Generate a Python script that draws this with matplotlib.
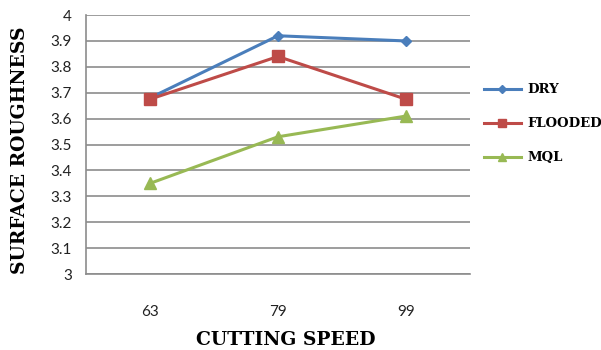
import matplotlib.pyplot as plt

# cutting speed levels and surface roughness for each cooling condition
speeds = ['63', '79', '99']
dry = [3.68, 3.92, 3.90]
flooded = [3.675, 3.84, 3.675]
mql = [3.35, 3.53, 3.61]

fig = plt.figure(figsize=(6.01, 3.5), dpi=100)
ax = fig.add_axes([0.143, 0.217, 0.639, 0.74])

x = range(len(speeds))
ax.plot(x, dry, color='#4A7EBB', lw=2.2, marker='D', ms=5, label='DRY', zorder=3)
ax.plot(x, flooded, color='#BE4B48', lw=2.2, marker='s', ms=8, label='FLOODED', zorder=4)
ax.plot(x, mql, color='#98B954', lw=2.2, marker='^', ms=8, label='MQL', zorder=3)

ax.set_xlim(-0.5, 2.5)
ax.set_ylim(3, 4)
ax.set_yticks([3 + i / 10 for i in range(11)])
ax.set_yticklabels(['3', '3.1', '3.2', '3.3', '3.4', '3.5', '3.6', '3.7', '3.8', '3.9', '4'])
ax.set_xticks(list(x))
ax.set_xticklabels(speeds)
ax.tick_params(axis='both', length=0, labelsize=11, colors='#222222')
ax.tick_params(axis='x', pad=22)
ax.tick_params(axis='y', pad=10)
for lab in ax.get_xticklabels() + ax.get_yticklabels():
    lab.set_family('Lato')

ax.grid(axis='y', color='#8C8C8C', lw=1.2)
ax.set_axisbelow(True)
for side in ['top', 'right']:
    ax.spines[side].set_visible(False)
for side in ['left', 'bottom']:
    ax.spines[side].set_color('#8C8C8C')
    ax.spines[side].set_linewidth(1.2)

title_font = dict(family='DejaVu Serif', weight='bold', size=13.5, color='black')
fig.text(0.475, 0.028, 'CUTTING SPEED', ha='center', va='center', **title_font)
fig.text(0.034, 0.57, 'SURFACE ROUGHNESS', rotation=90, ha='center', va='center', **title_font)

leg = ax.legend(loc='center left', bbox_to_anchor=(1.005, 0.58), frameon=False,
                handlelength=2.8, labelspacing=1.6, handletextpad=0.5, markerscale=0.8,
                prop=dict(family='DejaVu Serif', weight='bold', size=9.5))

fig.savefig('out.png', dpi=100)
